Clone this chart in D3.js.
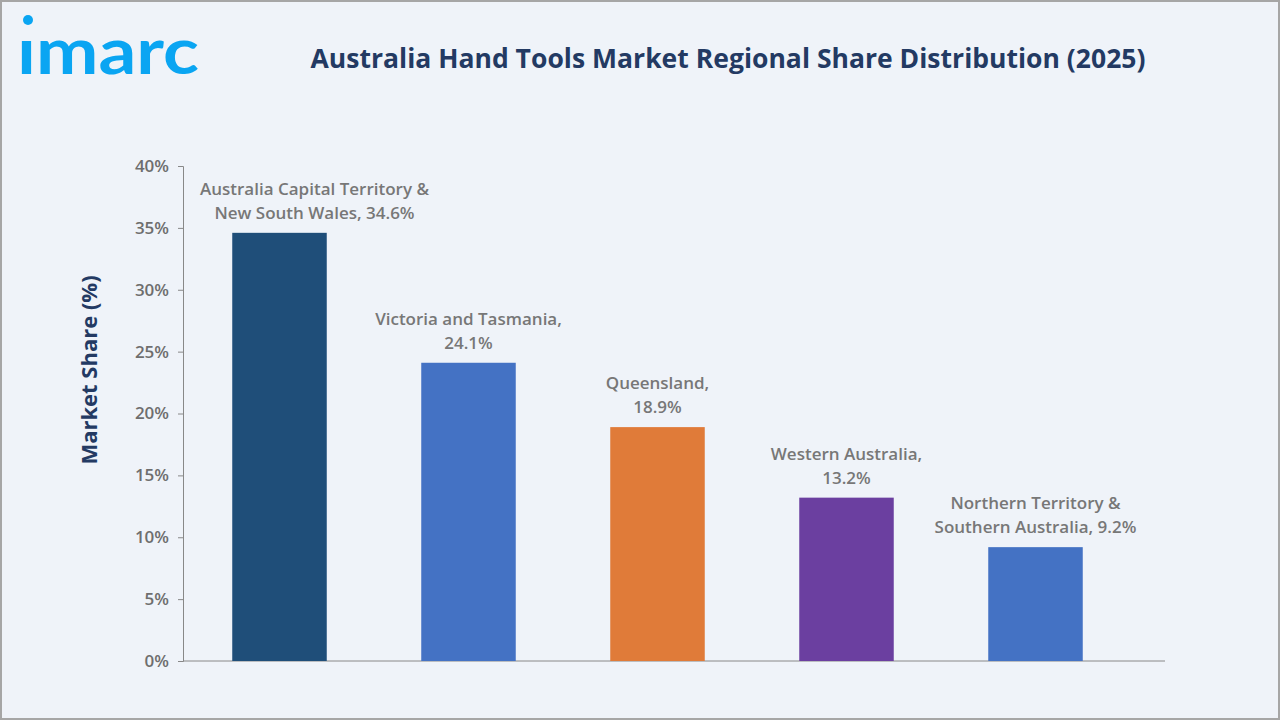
<!DOCTYPE html><html><head><meta charset="utf-8"><script src="https://cdn.jsdelivr.net/npm/d3@7"></script>
<style>body{margin:0;background:#fff}svg{display:block}</style></head><body><svg width="1280" height="720"></svg>
<script>
const categories=[["Australia Capital Territory &","New South Wales, 34.6%"],["Victoria and Tasmania,","24.1%"],["Queensland,","18.9%"],["Western Australia,","13.2%"],["Northern Territory &","Southern Australia, 9.2%"]];
const values=[34.6,24.1,18.9,13.2,9.2];
const colors=["#1f4e79","#4472c4","#e07b39","#6b3fa0","#4472c4"];
const ticks=[0,5,10,15,20,25,30,35,40];
const svg=d3.select("svg");
svg.append("rect").attr("x",1).attr("y",1).attr("width",1278).attr("height",718).attr("fill","#eff3f9").attr("stroke","#a6a6a6").attr("stroke-width",2);
svg.append("text").attr("x",17).attr("y",74).attr("font-family","Lato, 'Open Sans', sans-serif").attr("font-weight",700).attr("font-size",64).attr("fill","#0aa5f2").attr("textLength",182).attr("lengthAdjust","spacingAndGlyphs").text("ımarc");
svg.append("circle").attr("cx",28).attr("cy",20).attr("r",5).attr("fill","#0aa5f2");
svg.append("text").attr("x",728).attr("y",68).attr("text-anchor","middle").attr("font-family","'Open Sans', sans-serif").attr("font-weight",700).attr("font-size",26.5).attr("fill","#233a63").attr("textLength",835).text("Australia Hand Tools Market Regional Share Distribution (2025)");
const y=d3.scaleLinear().domain([0,40]).range([661,166]);
const x=d3.scaleBand().domain(d3.range(5)).range([185,1130]).paddingInner(0.5).paddingOuter(0.25);
const ga=svg.append("g").attr("transform","translate(183,0)").call(d3.axisLeft(y).tickValues(ticks).tickSize(5).tickFormat(d=>d+"%"));
ga.selectAll("path,line").attr("stroke","#888");
ga.selectAll("text").attr("font-family","'Open Sans', sans-serif").attr("font-weight",600).attr("font-size",17).attr("fill","#6e6e6e").attr("dx",-6);
svg.append("line").attr("x1",183).attr("x2",1165).attr("y1",661).attr("y2",661).attr("stroke","#888");
svg.selectAll("rect.bar").data(values).join("rect").attr("class","bar").attr("x",(d,i)=>x(i)).attr("width",x.bandwidth()).attr("y",d=>y(d)).attr("height",d=>661-y(d)).attr("fill",(d,i)=>colors[i]);
categories.forEach((c,i)=>{const t=svg.append("text").attr("text-anchor","middle").attr("font-family","'Open Sans', sans-serif").attr("font-weight",600).attr("font-size",17).attr("fill","#777");
const cx=x(i)+x.bandwidth()/2+(i===0?35:0);
c.forEach((l,j)=>t.append("tspan").attr("x",cx).attr("y",y(values[i])-38+j*24).text(l));});
svg.append("text").attr("transform","translate(97,370) rotate(-90)").attr("text-anchor","middle").attr("font-family","'Open Sans', sans-serif").attr("font-weight",700).attr("font-size",22).attr("fill","#233a63").text("Market Share (%)");
</script></body></html>
